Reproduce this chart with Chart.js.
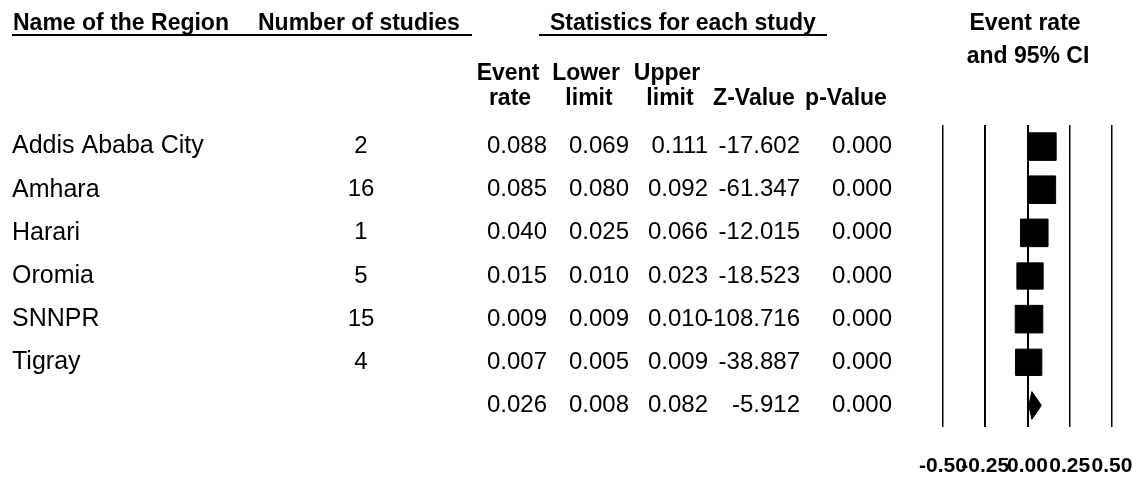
<!DOCTYPE html>
<html>
<head>
<meta charset="utf-8">
<title>Event rate by region</title>
<script src="https://cdn.jsdelivr.net/npm/chart.js@4.4.1/dist/chart.umd.min.js"></script>
<style>
  html, body { margin: 0; padding: 0; background: #fff; }
  #wrap { width: 1137px; height: 482px; }
</style>
</head>
<body>
<div id="wrap"><canvas id="forest" width="1137" height="482"></canvas></div>
<script>
// ---- data ----
const regions = ['Addis Ababa City', 'Amhara', 'Harari', 'Oromia', 'SNNPR', 'Tigray'];
const studies = [2, 16, 1, 5, 15, 4];
const eventRate = [0.088, 0.085, 0.040, 0.015, 0.009, 0.007];
const lowerLimit = [0.069, 0.080, 0.025, 0.010, 0.009, 0.005];
const upperLimit = [0.111, 0.092, 0.066, 0.023, 0.010, 0.009];
const zValue = [-17.602, -61.347, -12.015, -18.523, -108.716, -38.887];
const pValue = [0.000, 0.000, 0.000, 0.000, 0.000, 0.000];

// pooled estimate (last row)
const pooledRate = 0.026;
const pooledLower = 0.008;
const pooledUpper = 0.082;
const pooledZ = -5.912;
const pooledP = 0.000;

const xTicks = [-0.5, -0.25, 0, 0.25, 0.5];
const tickLabels = ['-0.50', '-0.25', '0.00', '0.25', '0.50'];

// ---- styling ----
const FONT = '"Liberation Sans", Arial, Helvetica, sans-serif';
const squareRadius = [19.5, 19.5, 19.5, 18.6, 19.5, 18.6];
const gridWidths = [1.5, 2, 2, 1.5, 1.5];
const diamondHalf = 0.32; // half height of the pooled diamond, in row units
const pooledRow = regions.length;

// Confidence interval whiskers behind the study markers
const whiskers = {
  id: 'whiskers',
  beforeDatasetsDraw(chart) {
    const { ctx, scales: { x, y } } = chart;
    ctx.save();
    ctx.strokeStyle = '#000';
    ctx.lineWidth = 2;
    eventRate.forEach((_, i) => {
      const py = y.getPixelForValue(i);
      ctx.beginPath();
      ctx.moveTo(x.getPixelForValue(lowerLimit[i]), py);
      ctx.lineTo(x.getPixelForValue(upperLimit[i]), py);
      ctx.stroke();
    });
    ctx.restore();
  }
};

// Table of study statistics to the left of the plot
const statsTable = {
  id: 'statsTable',
  afterDraw(chart) {
    const { ctx, scales: { y } } = chart;
    const fmt = v => v.toFixed(3);
    ctx.save();
    ctx.fillStyle = '#000';
    ctx.strokeStyle = '#000';

    // group headers
    ctx.font = 'bold 23px ' + FONT;
    ctx.textBaseline = 'alphabetic';
    ctx.textAlign = 'left';
    ctx.fillText('Name of the Region', 13, 30);
    ctx.fillText('Number of studies', 258, 30);
    ctx.fillText('Statistics for each study', 550, 30);
    ctx.textAlign = 'center';
    ctx.fillText('Event rate', 1025, 30);
    ctx.fillText('and 95% CI', 1028, 63);

    ctx.lineWidth = 2;
    ctx.beginPath();
    ctx.moveTo(12, 35); ctx.lineTo(472, 35);
    ctx.moveTo(539, 35); ctx.lineTo(827, 35);
    ctx.stroke();

    // column headers
    ctx.textAlign = 'center';
    ctx.fillText('Event', 508, 80);
    ctx.fillText('rate', 510, 105);
    ctx.fillText('Lower', 586, 80);
    ctx.fillText('limit', 589, 105);
    ctx.fillText('Upper', 667, 80);
    ctx.fillText('limit', 670, 105);
    ctx.fillText('Z-Value', 754, 105);
    ctx.fillText('p-Value', 846, 105);

    // rows
    ctx.textBaseline = 'middle';
    const rowY = i => y.getPixelForValue(i);
    regions.forEach((name, i) => {
      const py = rowY(i);
      ctx.font = '25px ' + FONT;
      ctx.textAlign = 'left';
      ctx.fillText(name, 12, py);
      ctx.font = '24px ' + FONT;
      ctx.textAlign = 'center';
      ctx.fillText(String(studies[i]), 361, py);
      ctx.textAlign = 'right';
      ctx.fillText(fmt(eventRate[i]), 547, py);
      ctx.fillText(fmt(lowerLimit[i]), 629, py);
      ctx.fillText(fmt(upperLimit[i]), 708, py);
      ctx.fillText(fmt(zValue[i]), 800, py);
      ctx.fillText(fmt(pValue[i]), 892, py);
    });
    const py = rowY(pooledRow);
    ctx.font = '24px ' + FONT;
    ctx.textAlign = 'right';
    ctx.fillText(fmt(pooledRate), 547, py);
    ctx.fillText(fmt(pooledLower), 629, py);
    ctx.fillText(fmt(pooledUpper), 708, py);
    ctx.fillText(fmt(pooledZ), 800, py);
    ctx.fillText(fmt(pooledP), 892, py);
    ctx.restore();
  }
};

const diamond = [
  { x: pooledLower, y: pooledRow },
  { x: pooledRate, y: pooledRow - diamondHalf },
  { x: pooledUpper, y: pooledRow },
  { x: pooledRate, y: pooledRow + diamondHalf },
  { x: pooledLower, y: pooledRow }
];

new Chart(document.getElementById('forest'), {
  type: 'scatter',
  data: {
    datasets: [
      {
        label: 'Event rate',
        data: eventRate.map((v, i) => ({ x: v, y: i })),
        pointStyle: 'rect',
        pointRadius: squareRadius,
        pointHoverRadius: squareRadius,
        backgroundColor: '#000',
        borderColor: '#000',
        pointBorderWidth: 1
      },
      {
        type: 'line',
        label: 'Pooled',
        data: diamond,
        borderColor: '#000',
        backgroundColor: '#000',
        borderWidth: 1,
        fill: 'shape',
        pointRadius: 0,
        tension: 0
      }
    ]
  },
  options: {
    responsive: false,
    animation: false,
    events: [],
    layout: { padding: { left: 943, right: 25, top: 125, bottom: 0 } },
    plugins: { legend: { display: false }, tooltip: { enabled: false } },
    scales: {
      x: {
        type: 'linear',
        min: -0.5,
        max: 0.5,
        afterBuildTicks(scale) { scale.ticks = xTicks.map(v => ({ value: v })); },
        afterFit(scale) {
          scale.paddingLeft = 0;
          scale.paddingRight = 0;
          scale.height = 55;
        },
        grid: {
          color: '#000',
          lineWidth: ctx => gridWidths[ctx.index] ?? 1.5,
          drawTicks: false
        },
        border: { display: false },
        ticks: {
          autoSkip: false,
          maxRotation: 0,
          minRotation: 0,
          padding: 27,
          color: '#000',
          font: { family: FONT, size: 21, weight: 'bold' },
          callback: (v, i) => tickLabels[i]
        }
      },
      y: {
        type: 'linear',
        min: -0.5,
        max: 6.5,
        reverse: true,
        display: false
      }
    }
  },
  plugins: [whiskers, statsTable]
});
</script>
</body>
</html>
